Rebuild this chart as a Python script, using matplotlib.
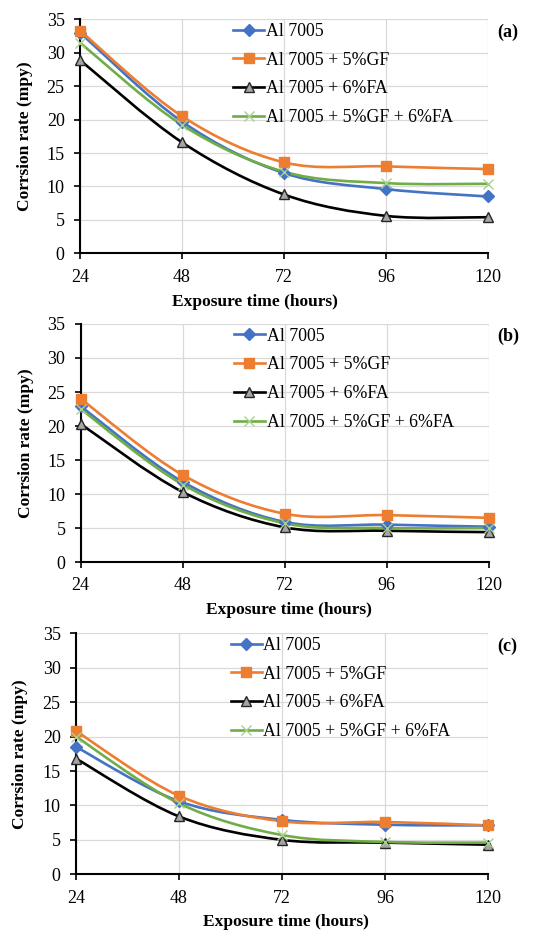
import numpy as np
import matplotlib
matplotlib.use("Agg")
import matplotlib.pyplot as plt
from matplotlib.path import Path
from matplotlib.patches import PathPatch
from matplotlib.lines import Line2D

plt.rcParams['font.family'] = ['Liberation Serif', 'DejaVu Serif']

hours = [24, 48, 72, 96, 120]
series_names = ['Al 7005', 'Al 7005 + 5%GF', 'Al 7005 + 6%FA', 'Al 7005 + 5%GF + 6%FA']

# corrosion rate (mpy), one list per series, per panel
a_al = [33.0, 19.7, 12.0, 9.6, 8.5]
a_gf = [33.3, 20.5, 13.6, 13.0, 12.6]
a_fa = [28.9, 16.6, 8.8, 5.6, 5.4]
a_gffa = [31.5, 19.2, 12.2, 10.5, 10.4]

b_al = [22.9, 11.8, 5.9, 5.5, 5.2]
b_gf = [24.0, 12.8, 7.1, 6.9, 6.5]
b_fa = [20.3, 10.3, 5.1, 4.6, 4.4]
b_gffa = [22.5, 11.4, 5.7, 5.0, 5.0]

c_al = [18.5, 10.6, 7.9, 7.2, 7.1]
c_gf = [20.8, 11.4, 7.7, 7.6, 7.1]
c_fa = [16.8, 8.4, 5.0, 4.6, 4.3]
c_gffa = [20.0, 10.3, 5.7, 4.7, 4.6]

panels = [('(a)', [a_al, a_gf, a_fa, a_gffa]),
          ('(b)', [b_al, b_gf, b_fa, b_gffa]),
          ('(c)', [c_al, c_gf, c_fa, c_gffa])]

# colour, marker, marker face, marker edge, size
styles = [('#4472C4', 'D', '#4472C4', '#4472C4', 6),
          ('#ED7D31', 's', '#ED7D31', '#ED7D31', 7),
          ('#000000', '^', '#A5A5A5', '#262626', 7.5),
          ('#70AD47', 'x', '#70AD47', '#A9D18E', 7.5)]

# axes rectangles in figure fraction (left, bottom, width, height)
rects = [(0.1449, 0.7279, 0.7391, 0.2514),
         (0.1462, 0.3963, 0.7390, 0.2557),
         (0.1377, 0.0609, 0.7464, 0.2589)]
xlabel_x = [0.43, 0.51, 0.51]
xlabel_y = [-0.208, -0.202, -0.197]


def smooth_path(x, y):
    # excel style smoothed line: cubic bezier, catmull-rom control points
    p = np.column_stack([x, y]).astype(float)
    ext = np.vstack([p[0], p, p[-1]])
    verts = [p[0]]
    codes = [Path.MOVETO]
    for i in range(len(p) - 1):
        p0, p1, p2, p3 = ext[i], ext[i + 1], ext[i + 2], ext[i + 3]
        verts += [p1 + (p2 - p0) / 6, p2 - (p3 - p1) / 6, p2]
        codes += [Path.CURVE4] * 3
    return Path(verts, codes)


fig = plt.figure(figsize=(5.52, 9.31), dpi=100)

for k, (tag, data) in enumerate(panels):
    ax = fig.add_axes(rects[k])
    for vals, (col, mk, fc, ec, ms) in zip(data, styles):
        ax.add_patch(PathPatch(smooth_path(hours, vals), fill=False,
                               edgecolor=col, lw=1.9, zorder=3))
        ax.plot(hours, vals, linestyle='none', marker=mk, markersize=ms,
                markerfacecolor=fc, markeredgecolor=ec, markeredgewidth=1.0,
                zorder=4, clip_on=False)

    ax.set_xlim(24, 120)
    ax.set_ylim(0, 35)
    ax.set_xticks(hours)
    ax.set_yticks(np.arange(0, 36, 5))
    ax.grid(True, color='#D9D9D9', lw=0.9)
    ax.set_axisbelow(True)
    for s in ['top', 'right']:
        ax.spines[s].set_visible(False)
    for s in ['left', 'bottom']:
        ax.spines[s].set_linewidth(1.5)
        ax.spines[s].set_color('black')
    ax.tick_params(axis='both', direction='out', length=4, width=1.2,
                   labelsize=13, colors='black')
    ax.tick_params(axis='x', pad=7)
    ax.tick_params(axis='y', pad=7)

    ax.set_xlabel('Exposure time (hours)', fontsize=12.5, fontweight='bold',
                  va='center')
    ax.xaxis.set_label_coords(xlabel_x[k], xlabel_y[k])
    ax.set_ylabel('Corrsion rate (mpy)', fontsize=12.5, fontweight='bold',
                  va='center')
    ax.yaxis.set_label_coords(-0.135, 0.5)

    ax.text(1.022, 0.946, tag, transform=ax.transAxes, ha='left', va='center',
            fontsize=13, fontweight='bold')

    handles = [Line2D([], [], color=col, lw=1.9, marker=mk, markersize=ms,
                      markerfacecolor=fc, markeredgecolor=ec)
               for (col, mk, fc, ec, ms) in styles]
    ax.legend(handles, series_names, loc='upper left',
              bbox_to_anchor=(0.375, 0.985), frameon=False, fontsize=12.8,
              handlelength=1.75, handletextpad=0.1, labelspacing=0.66,
              borderpad=0, borderaxespad=0)

fig.savefig('out.png', dpi=100)
